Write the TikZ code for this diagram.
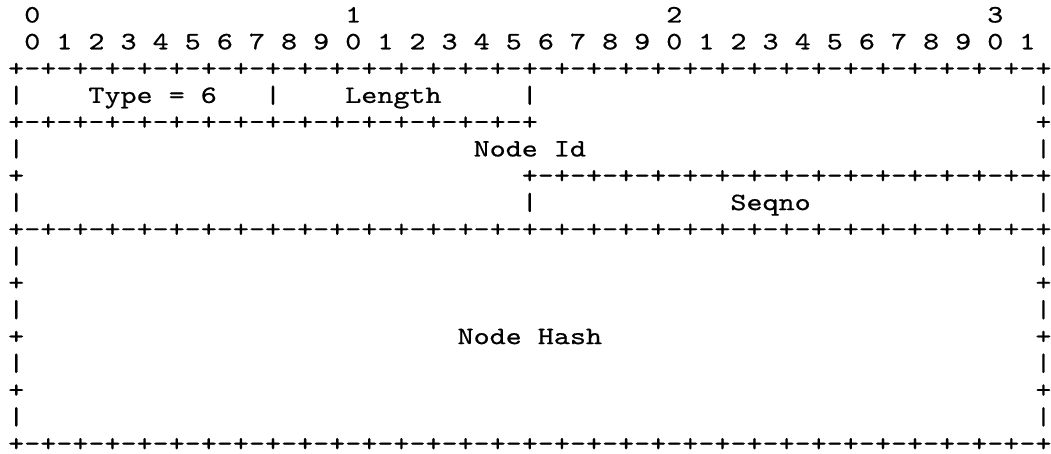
\documentclass[tikz,border=0pt]{standalone}
\usepackage{fontspec}
\usepackage{tikz}
\newfontfamily\asciifamily[Extension=.otf, FakeStretch=1.2229, FakeBold=0.6]{lmmono10-regular}
\newcommand{\asciifont}{\asciifamily\fontsize{25}{25}\selectfont}
\newcommand{\fullrule}{+-+-+-+-+-+-+-+-+-+-+-+-+-+-+-+-+-+-+-+-+-+-+-+-+-+-+-+-+-+-+-+-+}
\newcommand{\halfrule}{+-+-+-+-+-+-+-+-+-+-+-+-+-+-+-+-+}

\begin{document}
\begin{tikzpicture}[
  x=16.05pt, y=-26.8pt,
  ascii/.style={anchor=base west, inner sep=0pt, font=\asciifont}
]
  \useasboundingbox (-0.4984,-0.8396) rectangle (64.9844,16.1007);

  % bit numbering
  \node[ascii] (tens0) at (1,0) {0};
  \node[ascii] (tens1) at (21,0) {1};
  \node[ascii] (tens2) at (41,0) {2};
  \node[ascii] (tens3) at (61,0) {3};
  \node[ascii] (units) at (1,1) {0 1 2 3 4 5 6 7 8 9 0 1 2 3 4 5 6 7 8 9 0 1 2 3 4 5 6 7 8 9 0 1};

  % first word
  \node[ascii] (rule2) at (0,2) {\fullrule};
  \node[ascii] (bar3l) at (0,3) {|};
  \node[ascii] (type) at (5,3) {Type = 6};
  \node[ascii] (bar3a) at (16,3) {|};
  \node[ascii] (length) at (21,3) {Length};
  \node[ascii] (bar3b) at (32,3) {|};
  \node[ascii] (bar3r) at (64,3) {|};
  \node[ascii] (rule4) at (0,4) {\halfrule};
  \node[ascii] (plus4r) at (64,4) {+};

  % node id and seqno
  \node[ascii] (bar5l) at (0,5) {|};
  \node[ascii] (nodeid) at (29,5) {Node Id};
  \node[ascii] (bar5r) at (64,5) {|};
  \node[ascii] (plus6l) at (0,6) {+};
  \node[ascii] (rule6) at (32,6) {\halfrule};
  \node[ascii] (bar7l) at (0,7) {|};
  \node[ascii] (bar7m) at (32,7) {|};
  \node[ascii] (seqno) at (45,7) {Seqno};
  \node[ascii] (bar7r) at (64,7) {|};
  \node[ascii] (rule8) at (0,8) {\fullrule};

  % node hash
  \foreach \r/\c in {9/|,10/+,11/|,12/+,13/|,14/+,15/|} {
    \node[ascii] (side\r l) at (0,\r) {\c};
    \node[ascii] (side\r r) at (64,\r) {\c};
  }
  \node[ascii] (nodehash) at (28,12) {Node Hash};
  \node[ascii] (rule16) at (0,16) {\fullrule};
\end{tikzpicture}
\end{document}
